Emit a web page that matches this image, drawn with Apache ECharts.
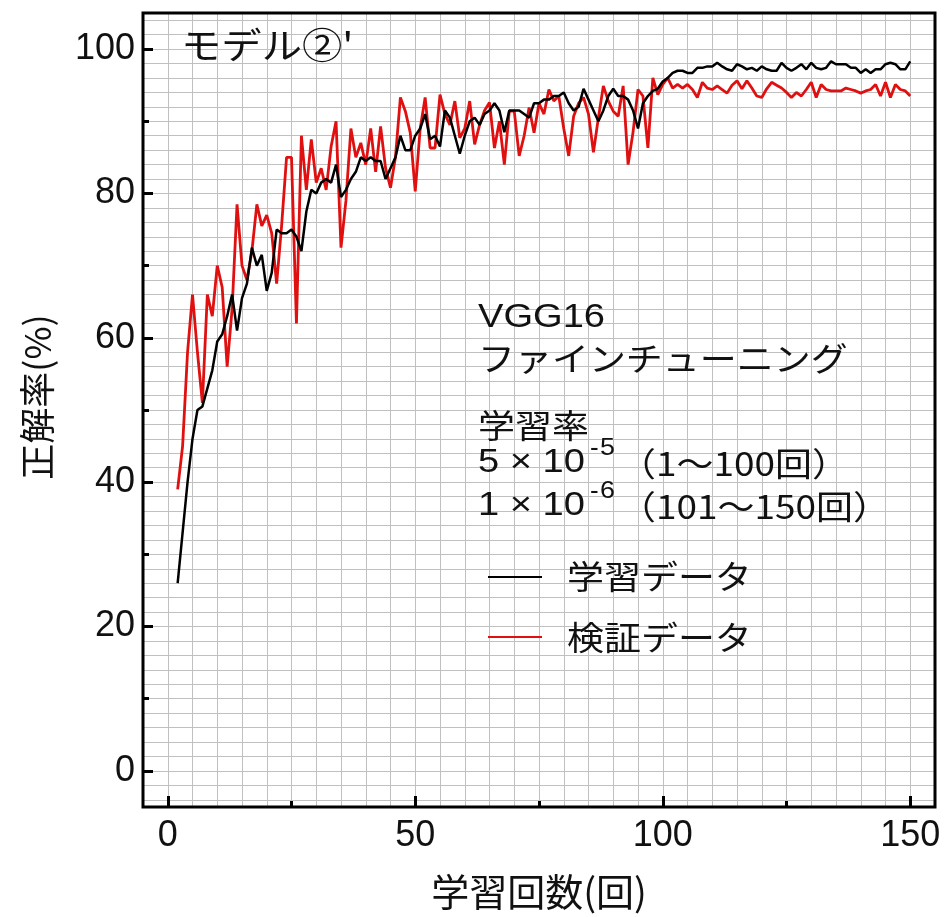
<!DOCTYPE html>
<html>
<head>
<meta charset="utf-8">
<script src="https://cdn.jsdelivr.net/npm/echarts@6/dist/echarts.min.js"></script>
<style>
html,body{margin:0;padding:0;background:#fff;}
#chart{width:948px;height:917px;}
</style>
</head>
<body>
<div id="chart"></div>
<script>
// ---- data ----
const firstEpoch = 2;
const trainAcc = [
 26,33,40,46,50,50.5,53,55.5,59.5,60.5,63,66,61,65.5,67.5,72.5,70,71.5,66.5,69,
 75,74.5,74.5,75,74,72,77.5,80.5,80,81.5,82,81.5,84,79.5,80.5,82,83,85,84.5,85,
 84.5,84.5,82,83.5,85,88,86,86,88,89,91,87.5,88,86.5,91.5,90.5,88,85.5,88,90,
 90.5,89.5,91,91.5,92.5,91.5,88.5,91.5,91.5,91.5,91,90.5,92.5,92.5,93,93,93.5,93.5,94,92.5,
 91.5,92,94.5,93,91.5,90,91.5,93.5,94.5,93.5,93.5,93,91.5,89,92.5,93.5,94.2,94.5,95.5,96,
 96.7,97,97,96.7,96.7,97.4,97.4,97.6,97.6,98.1,97.6,97.2,97,97.9,97.6,97.2,97.4,97,97.6,97.2,
 97,97,98.1,97.4,97,97.4,97.9,97.2,98.1,97.4,97.2,97.4,98.3,97.9,97.9,97.9,97.4,97.4,96.7,97.2,
 96.7,97.2,97.2,97.9,98.1,97.9,97.2,97.2,98.3
];
const valAcc = [
 39,45,58,66,58,51,66,63,70,67,56,64,78.5,70,68,72,78.5,75.5,77,74.5,
 67.5,75.5,85,85,62,88,80.5,87.5,81.5,83.5,80.5,86.5,90,72.5,79,89,85,87,84,89,
 83,89.3,83.5,80.8,85,93.3,91.4,88.4,80.3,89,93.3,86.3,86.3,93.7,91,89.5,92.8,87.7,89,92.8,
 86.8,89.5,91.5,92.6,86.3,90,84,91.4,91.4,85.2,88,91.9,88.4,92.5,91,94.4,92.8,93.5,89,85.2,
 90.7,92.5,93.3,91,85.7,90.5,94.9,92.8,91.4,90.7,94.9,84,88.5,94.4,93.5,86.3,96,93.7,95.1,96,
 94.6,95.1,94.6,95.1,94.4,93.3,95.4,94.6,94.4,94.9,94.4,93.9,95,95.6,94.5,95.6,94.6,93.5,93.3,94.5,
 95.4,95,94.6,94,93.3,94,93.5,94.4,95.4,93.3,95.1,94.4,94.2,94.2,94.2,94.6,94.4,94.2,93.9,94.2,
 94.4,95.1,93.5,95.4,93.3,95.1,94.4,94.2,93.5
];
const seriesNames = ['学習データ', '検証データ'];
const xTickLabels = [0, 50, 100, 150];
const xMinorTicks = [25, 75, 125];
const yTickLabels = [0, 20, 40, 60, 80, 100];
const yMinorTicks = [10, 30, 50, 70, 90];
const xName = '学習回数(回)';
const yName = '正解率(%)';
const panelTitle = "モデル②'";
const noteLines = ['VGG16', 'ファインチューニング', '学習率'];
const rateBase = ['5 × 10', '1 × 10'];
const rateExp = ['5', '6'];
const rateRange = ['（1～100回）', '（101～150回）'];

function pairs(arr) { return arr.map((v, i) => [firstEpoch + i, v]); }

// ---- layout ----
const L = 143, R = 935, T = 13, B = 807, W = 948, H = 917;
const xMin = -5, xMax = 155, yMin = -5, yMax = 105;
const py = (B - T) / (yMax - yMin);
const lat = 'Liberation Sans, Arial, sans-serif';
const cjk = 'Noto Sans CJK JP, sans-serif';
const grey = '#c0c0c0';
const ink = '#111';

const chart = echarts.init(document.getElementById('chart'), null, {renderer: 'canvas'});

function txt(x, y, s, size, fam, sx) {
  return {
    type: 'text', x: x, y: y, scaleX: sx || 1, z: 100,
    style: { text: s, fill: ink, font: size + 'px ' + fam,
      textAlign: 'left', textVerticalAlign: 'middle', align: 'left', verticalAlign: 'middle' }
  };
}
const SX = 1.12;
const graphics = [
  txt(181, 45, panelTitle, 36, cjk, SX),
  txt(478, 318, noteLines[0], 34, lat, SX),
  txt(478, 358, noteLines[1], 33, cjk, SX),
  txt(478, 425, noteLines[2], 33, cjk, SX),
  txt(478, 463, rateBase[0], 34, lat, SX),
  txt(590, 449, '-', 26, lat, 1),
  txt(600, 448, rateExp[0], 24, lat, SX),
  txt(619, 463, rateRange[0], 33, cjk, SX),
  txt(478, 506, rateBase[1], 34, lat, SX),
  txt(590, 492, '-', 26, lat, 1),
  txt(600, 491, rateExp[1], 24, lat, SX),
  txt(619, 506, rateRange[1], 33, cjk, SX),
  {type: 'line', z: 100, shape: {x1: 488, y1: 577, x2: 542, y2: 577}, style: {stroke: '#000', lineWidth: 2}},
  txt(567, 576, seriesNames[0], 33, cjk, SX),
  {type: 'line', z: 100, shape: {x1: 488, y1: 637, x2: 542, y2: 637}, style: {stroke: '#e01010', lineWidth: 2}},
  txt(567, 637, seriesNames[1], 33, cjk, SX)
];

const noLine = {show: false, onZero: false};
const hidden = {axisLine: noLine, axisTick: {show: false}, axisLabel: {show: false}, splitLine: {show: false}};
const tickStyle = {color: '#000', width: 3};

const option = {
  backgroundColor: '#fff',
  animation: false,
  grid: [
    {left: L, right: W - R, top: T, bottom: H - B, show: true, borderColor: '#000', borderWidth: 3, backgroundColor: 'transparent', z: 5},
    {left: L, right: W - R, top: T + py, bottom: H - B + py, show: false}
  ],
  xAxis: [
    {gridIndex: 0, type: 'value', min: xMin, max: xMax, interval: 5, position: 'bottom',
     axisLine: noLine, axisTick: {show: false}, axisLabel: {show: false},
     splitLine: {show: true, lineStyle: {color: grey, width: 1}}},
    Object.assign({gridIndex: 1, type: 'value', min: xMin, max: xMax}, hidden),
    {gridIndex: 0, type: 'value', min: xMin, max: xMax, position: 'bottom',
     axisLine: noLine, splitLine: {show: false},
     axisTick: {show: true, inside: true, length: 11, customValues: xTickLabels, lineStyle: tickStyle},
     axisLabel: {show: true, margin: 11, fontSize: 36, fontFamily: lat, color: ink, customValues: xTickLabels},
     name: xName, nameLocation: 'middle', nameGap: 66, nameMoveOverlap: false,
     nameTextStyle: {fontSize: 38, fontFamily: cjk, color: ink}},
    {gridIndex: 0, type: 'value', min: xMin, max: xMax, position: 'bottom',
     axisLine: noLine, splitLine: {show: false}, axisLabel: {show: false},
     axisTick: {show: true, inside: true, length: 6, customValues: xMinorTicks, lineStyle: tickStyle}}
  ],
  yAxis: [
    {gridIndex: 0, type: 'value', min: yMin, max: yMax, position: 'left',
     axisLine: noLine, axisTick: {show: false}, axisLabel: {show: false}, splitLine: {show: false}},
    {gridIndex: 1, type: 'value', min: -4, max: 104, interval: 2,
     axisLine: noLine, axisTick: {show: false}, axisLabel: {show: false},
     splitLine: {show: true, lineStyle: {color: grey, width: 1}}},
    {gridIndex: 0, type: 'value', min: yMin, max: yMax, position: 'left',
     axisLine: noLine, splitLine: {show: false},
     axisTick: {show: true, inside: true, length: 10, customValues: yTickLabels, lineStyle: tickStyle},
     axisLabel: {show: true, margin: 8, fontSize: 36, fontFamily: lat, color: ink, customValues: yTickLabels},
     name: yName, nameLocation: 'middle', nameGap: 88, nameRotate: 90, nameMoveOverlap: false,
     nameTextStyle: {fontSize: 36, fontFamily: cjk, color: ink, padding: [0, 0, 0, 26]}},
    {gridIndex: 0, type: 'value', min: yMin, max: yMax, position: 'left',
     axisLine: noLine, splitLine: {show: false}, axisLabel: {show: false},
     axisTick: {show: true, inside: true, length: 6, customValues: yMinorTicks, lineStyle: tickStyle}}
  ],
  series: [
    {name: seriesNames[1], type: 'line', xAxisIndex: 0, yAxisIndex: 0, data: pairs(valAcc),
     showSymbol: false, symbol: 'none', z: 3, lineStyle: {color: '#e01010', width: 2.8}},
    {name: seriesNames[0], type: 'line', xAxisIndex: 0, yAxisIndex: 0, data: pairs(trainAcc),
     showSymbol: false, symbol: 'none', z: 4, lineStyle: {color: '#000', width: 2.5}}
  ],
  graphic: graphics
};
chart.setOption(option);
</script>
</body>
</html>
